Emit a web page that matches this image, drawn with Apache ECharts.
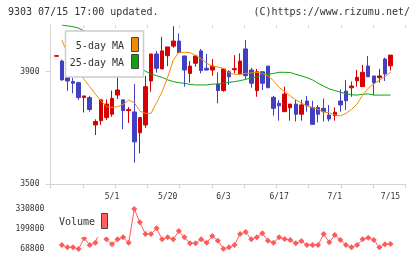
<!DOCTYPE html>
<html>
<head>
<meta charset="utf-8">
<script src="https://cdn.jsdelivr.net/npm/echarts@6/dist/echarts.min.js"></script>
<style>
html, body { margin: 0; padding: 0; background: #fff; }
#main { width: 420px; height: 259px; }
</style>
</head>
<body>
<div id="main"></div>
<script>
// daily candles (index 0 is the day before the first volume / MA point)
var opens  = [3955,3938,3895,3865,3861,3808,3808,3711,3726,3737,3749,3817,3800,3762,3757,3683,3711,3867,3963,3910,3957,
              3991,4009,3956,3894,3930,3974,3912,3906,3856,3833,3900,3907,3892,3981,3906,3833,3900,3920,3809,3788,
              3758,3772,3785,3749,3796,3773,3773,3770,3746,3744,3796,3831,3843,3868,3847,3920,3885,3879,3945,3921];
var closes = [3957,3871,3867,3859,3808,3814,3766,3723,3800,3785,3805,3835,3762,3766,3651,3737,3847,3963,3912,3974,3988,
              4009,3968,3906,3920,3956,3904,3906,3920,3833,3910,3882,3911,3938,3886,3859,3900,3859,3843,3770,3779,
              3821,3785,3749,3782,3779,3713,3749,3758,3732,3756,3782,3797,3849,3880,3898,3882,3861,3885,3892,3959];
var lows   = [3954,3868,3832,3823,3800,3755,3758,3675,3711,3728,3740,3803,3696,3718,3577,3610,3701,3829,3897,3909,3920,
              3985,3968,3847,3861,3918,3894,3905,3886,3788,3829,3853,3894,3888,3873,3843,3811,3835,3843,3744,3726,
              3758,3726,3723,3726,3758,3713,3720,3723,3723,3726,3758,3764,3811,3847,3847,3882,3817,3861,3867,3904];
var highs  = [3958,3943,3905,3878,3865,3814,3814,3731,3802,3802,3833,3888,3800,3775,3856,3737,3885,3963,3974,4024,3988,
              4062,4036,3956,3938,3959,3981,3963,3945,3897,3910,3906,3959,3965,4013,3914,3910,3900,3920,3814,3800,
              3847,3785,3800,3800,3814,3797,3782,3805,3782,3773,3837,3871,3865,3906,3924,3956,3885,3910,3950,3959];

var ma5  = ['-',4012,3966,3927,3899,3873,3847,3821,3796,3776,3773,3776,3784,3799,3790,3760,3752,3752,3790,3829,3881,
            3941,3969,3969,3968,3958,3946,3930,3920,3917,3912,3896,3891,3891,3894,3896,3898,3894,3885,3868,3844,
            3829,3814,3800,3788,3779,3773,3766,3757,3754,3746,3743,3752,3766,3785,3817,3841,3856,3870,3882,3898];
var ma25 = ['-',4066,4063,4060,4055,4045,4032,4018,4003,3988,3973,3958,3944,3931,3920,3911,3902,3892,3886,3880,3871,
            3865,3861,3859,3855,3853,3853,3853,3856,3856,3859,3862,3865,3868,3873,3878,3882,3887,3891,3894,3898,
            3898,3897,3891,3885,3879,3871,3859,3849,3839,3833,3827,3822,3818,3817,3820,3821,3817,3817,3817,3817];

var volumes = ['-',95000,79700,79700,68800,138700,95000,110300,200000,132100,99400,132100,145200,110300,330800,243500,
               167000,167000,204200,132100,145200,132100,186700,145200,105900,105900,132100,110300,154000,123400,71000,
               79700,95000,167000,180100,132100,145200,171400,123400,110300,145200,134300,127700,105900,121200,95000,
               95000,95000,167000,112500,160500,127700,95000,79700,95000,132100,143000,127700,79700,99400,101500];

var tickIdx = [10, 20, 30, 40, 50, 60];
var tickLabels = ['5/1', '5/20', '6/3', '6/17', '7/1', '7/15'];
var priceTicks = [3500, 3900];
var volTicks = [68800, 199800, 330800];

var FONT = 'DejaVu Sans Mono';
var GREY = '#d4d4d4';

var cats = opens.map(function (v, i) { return String(i); });
var candles = opens.map(function (o, i) { return [o, closes[i], lows[i], highs[i]]; });
var labelOf = {};
tickIdx.forEach(function (k, j) { labelOf[k] = tickLabels[j]; });

var chart = echarts.init(document.getElementById('main'));
chart.setOption({
  animation: false,
  grid: [
    { left: 50.5, top: 25, width: 355, height: 159.3 },
    { left: 56.3, top: 25, width: 334.2, height: 159.3 },
    { left: 56.3, top: 209, width: 334.2, height: 40 }
  ],
  xAxis: [
    { gridIndex: 0, type: 'value', min: 0, max: 11, interval: 1,
      axisLine: { show: true, lineStyle: { color: GREY } },
      axisTick: { show: true, length: 4, lineStyle: { color: GREY } },
      axisLabel: { show: false }, splitLine: { show: false } },
    { gridIndex: 0, type: 'value', min: 0, max: 11, interval: 1,
      axisLine: { show: false },
      axisTick: { show: true, inside: true, length: 3, lineStyle: { color: GREY } },
      axisLabel: { show: false }, splitLine: { show: false } },
    { gridIndex: 1, type: 'category', data: cats, boundaryGap: false,
      axisLine: { show: false }, axisTick: { show: false }, splitLine: { show: false },
      axisLabel: { interval: 0, margin: 9, fontFamily: FONT, fontSize: 8, color: '#333',
        formatter: function (v, i) { return labelOf[i] || ''; } } },
    { gridIndex: 2, type: 'category', data: cats, boundaryGap: false, show: false }
  ],
  yAxis: [
    { gridIndex: 0, type: 'value', min: 3500, max: 4066,
      axisLine: { show: true, lineStyle: { color: GREY } },
      axisTick: { show: true, length: 5, customValues: priceTicks, lineStyle: { color: GREY } },
      axisLabel: { customValues: priceTicks, margin: 11, fontFamily: FONT, fontSize: 8, color: '#333',
        formatter: function (v) { return String(v); } },
      splitLine: { show: false } },
    { gridIndex: 1, type: 'value', min: 3500, max: 4066, show: false },
    { gridIndex: 2, type: 'value', min: 68800, max: 330800,
      axisLine: { show: false }, axisTick: { show: false }, splitLine: { show: false },
      axisLabel: { customValues: volTicks, margin: 12, fontFamily: FONT, fontSize: 8, color: '#333',
        formatter: function (v) { return String(v); } } }
  ],
  series: [
    { type: 'candlestick', xAxisIndex: 2, yAxisIndex: 1, data: candles, barWidth: 4,
      itemStyle: { color: '#d60000', color0: '#4040c0', borderColor: '#d60000', borderColor0: '#4040c0', borderWidth: 1 } },
    { type: 'line', xAxisIndex: 2, yAxisIndex: 1, data: ma25, symbol: 'none',
      lineStyle: { color: '#10a010', width: 1 } },
    { type: 'line', xAxisIndex: 2, yAxisIndex: 1, data: ma5, symbol: 'none',
      lineStyle: { color: '#f08c00', width: 1 } },
    { type: 'line', xAxisIndex: 3, yAxisIndex: 2, data: volumes, symbol: 'diamond', symbolSize: 6,
      showAllSymbol: true, itemStyle: { color: '#ff5a5a' }, lineStyle: { color: '#ff5a5a', width: 1 } }
  ],
  graphic: [
    { type: 'text', z: 100, x: 8, y: 12,
      style: { text: '9303 07/15 17:00 updated.', font: '10px ' + FONT, fill: '#333', verticalAlign: 'middle' } },
    { type: 'text', z: 100, x: 410, y: 12,
      style: { text: '(C)https://www.rizumu.net/', font: '10px ' + FONT, fill: '#333', align: 'right', verticalAlign: 'middle' } },
    // price legend
    { type: 'rect', z: 100, shape: { x: 65.5, y: 31, width: 78, height: 46 },
      style: { fill: '#fff', stroke: '#cccccc', lineWidth: 1.5 } },
    { type: 'text', z: 101, x: 124, y: 46, style: { text: '5-day MA', font: '10px ' + FONT, fill: '#333', align: 'right', verticalAlign: 'middle' } },
    { type: 'text', z: 101, x: 124, y: 63, style: { text: '25-day MA', font: '10px ' + FONT, fill: '#333', align: 'right', verticalAlign: 'middle' } },
    { type: 'rect', z: 101, shape: { x: 131.5, y: 37.5, width: 7, height: 14 },
      style: { fill: '#f08c00', stroke: '#444', lineWidth: 1 } },
    { type: 'rect', z: 101, shape: { x: 131.5, y: 54.5, width: 7, height: 14 },
      style: { fill: '#10a010', stroke: '#444', lineWidth: 1 } },
    // volume legend
    { type: 'rect', z: 100, shape: { x: 55, y: 204, width: 56, height: 33 }, style: { fill: '#fff' } },
    { type: 'text', z: 101, x: 59, y: 222.5, style: { text: 'Volume', font: '10px ' + FONT, fill: '#333', verticalAlign: 'middle' } },
    { type: 'rect', z: 101, shape: { x: 101.5, y: 213.5, width: 6, height: 15 },
      style: { fill: '#ff5f5f', stroke: '#444', lineWidth: 1 } }
  ]
});
</script>
</body>
</html>
